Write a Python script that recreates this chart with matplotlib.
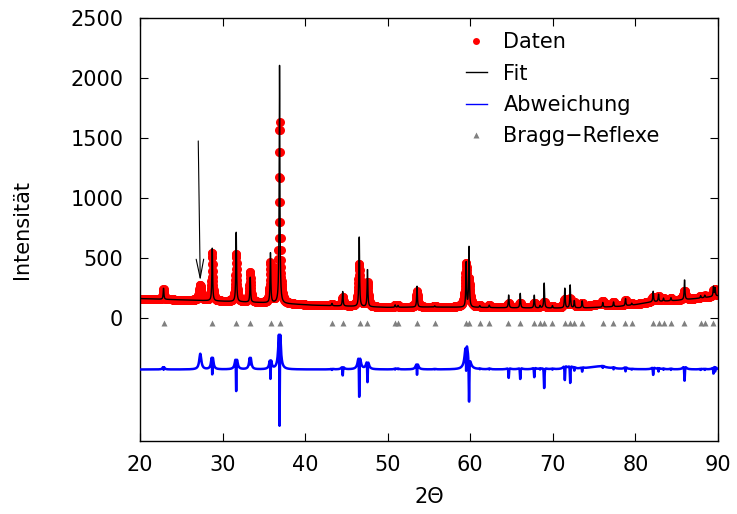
import numpy as np
import matplotlib.pyplot as plt
from matplotlib.lines import Line2D

plt.rcParams['font.family'] = ['DejaVu Sans']

# Untergrund des Fits (2Theta, Zaehlrate)
bg_pos = [20, 28, 36, 41, 50, 55, 60, 65, 70, 74, 78, 80, 82, 85, 88, 90]
bg_val = [165, 148, 128, 110, 92, 95, 92, 88, 86, 88, 100, 115, 138, 150, 170, 188]

# Reflexe: Lage, Hoehe im Fit, Hoehe in den Daten, Halbwertsbreite Daten
peak_pos = [22.85, 27.3, 28.75, 31.65, 33.35, 35.8, 36.9, 43.25, 44.55, 46.55,
            47.55, 50.9, 51.25, 53.55, 55.7, 59.5, 59.85, 61.15, 62.3, 64.65,
            66.05, 67.75, 68.45, 68.95, 69.95, 71.45, 72.1, 72.6, 73.55, 75.5,
            76.05, 77.35, 78.8, 79.55, 82.15, 82.8, 83.4, 84.3, 85.95, 87.9,
            88.4, 89.45, 89.65]
peak_fit = [95, 0, 455, 600, 215, 415, 1980, 20, 125, 600,
            320, 20, 15, 180, 10, 370, 520, 15, 20, 110,
            125, 110, 20, 215, 20, 170, 190, 60, 60, 0,
            40, 40, 60, 15, 90, 60, 25, 25, 170, 20,
            20, 85, 70]
peak_dat = [90, 130, 400, 400, 250, 330, 1510, 15, 70, 350,
            200, 18, 15, 130, 10, 340, 190, 12, 18, 35,
            40, 40, 15, 50, 15, 70, 70, 40, 30, 25,
            30, 30, 40, 10, 40, 40, 20, 20, 70, 15,
            15, 40, 45]
peak_wd = [0.08, 0.15, 0.09, 0.1, 0.1, 0.09, 0.09, 0.1, 0.12, 0.12,
           0.12, 0.1, 0.1, 0.12, 0.1, 0.15, 0.15, 0.1, 0.1, 0.15,
           0.15, 0.15, 0.1, 0.15, 0.1, 0.15, 0.15, 0.1, 0.12, 1.5,
           0.1, 0.1, 0.12, 0.1, 0.15, 0.1, 0.1, 0.1, 0.15, 0.1,
           0.1, 0.12, 0.12]
fit_w = 0.05

# berechnete Reflexlagen
bragg = [22.87, 28.77, 31.68, 33.35, 35.81, 36.9, 43.28, 44.58, 46.62, 47.54,
         50.93, 51.26, 53.58, 55.67, 59.52, 59.84, 61.14, 62.25, 64.61, 66.05,
         67.72, 68.42, 68.89, 69.95, 71.44, 72.04, 72.59, 73.52, 76.08, 77.33,
         78.77, 79.55, 82.1, 82.8, 83.4, 84.3, 85.9, 87.9, 88.4, 89.4]
bragg_y = -36
diff_offset = -425

x = np.arange(20, 90.0001, 0.02)
bg = np.interp(x, bg_pos, bg_val)
fit = bg.copy()
dat = bg.copy()
for p, hf, hd, wd in zip(peak_pos, peak_fit, peak_dat, peak_wd):
    fit += hf / (1 + ((x - p) / fit_w) ** 2)
    dat += hd / (1 + ((x - p) / wd) ** 2)
diff = dat - fit + diff_offset

fig = plt.figure(figsize=(7.37, 5.14), dpi=100)
ax = fig.add_axes([140 / 737, 73 / 514, 578 / 737, 423 / 514])

ax.plot(x, dat, 'o', color='red', ms=6.5, mec='none', zorder=2)
ax.plot(x, fit, color='black', lw=1.0, zorder=3)
ax.plot(x, diff, color='blue', lw=1.8, zorder=3)
ax.plot(bragg, [bragg_y] * len(bragg), '^', color='#808080', ms=5, mec='none', zorder=3)

ax.annotate('', xy=(27.3, 290), xytext=(27.05, 1500),
            arrowprops=dict(arrowstyle='->, head_length=0.9, head_width=0.18',
                            color='black', lw=0.8, mutation_scale=15))

ax.set_xlim(20, 90)
ax.set_ylim(-1020, 2500)
ax.set_xticks(range(20, 91, 10))
ax.set_yticks(range(0, 2501, 500))
ax.tick_params(direction='in', top=True, right=True, length=6, width=0.8,
               labelsize=15)
ax.tick_params(axis='y', pad=12)
ax.tick_params(axis='x', pad=10)
for s in ax.spines.values():
    s.set_linewidth(1.0)

ax.set_xlabel('2Θ', fontsize=15)
ax.set_ylabel('Intensität', fontsize=15)
ax.xaxis.set_label_coords(0.5, -0.108)
ax.yaxis.set_label_coords(-0.186, 0.5)

handles = [Line2D([], [], marker='o', color='red', ls='none', ms=5, mec='none'),
           Line2D([], [], color='black', lw=1.0),
           Line2D([], [], color='blue', lw=1.0),
           Line2D([], [], marker='^', color='#808080', ls='none', ms=4, mec='none')]
labels = ['Daten', 'Fit', 'Abweichung', 'Bragg−Reflexe']
ax.legend(handles, labels, loc='upper left', bbox_to_anchor=(0.564, 0.966),
          frameon=False, fontsize=15, borderpad=0, borderaxespad=0,
          handlelength=1.0, handletextpad=0.8, labelspacing=0.54)

fig.savefig('out.png', dpi=100)
